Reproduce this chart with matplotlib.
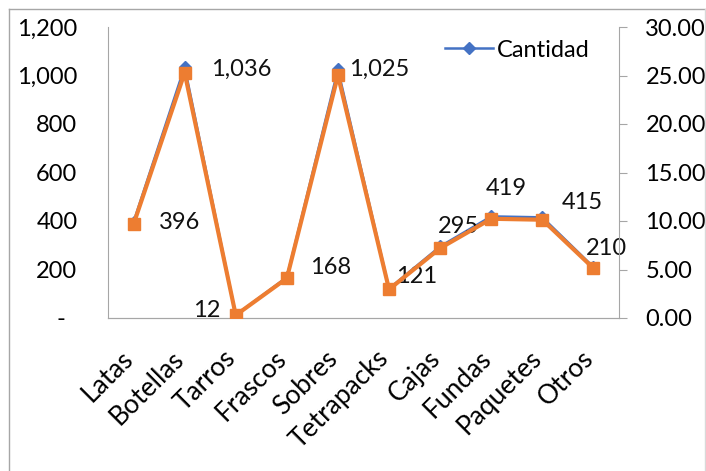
import matplotlib
matplotlib.use("Agg")
import matplotlib.pyplot as plt
from matplotlib.lines import Line2D
from matplotlib.transforms import ScaledTranslation

categorias = ["Latas", "Botellas", "Tarros", "Frascos", "Sobres",
              "Tetrapacks", "Cajas", "Fundas", "Paquetes", "Otros"]
cantidad = [396, 1036, 12, 168, 1025, 121, 295, 419, 415, 210]
porcentaje = [9.67, 25.29, 0.29, 4.10, 25.02, 2.95, 7.20, 10.23, 10.13, 5.13]
etiquetas = ["396", "1,036", "12", "168", "1,025", "121", "295", "419", "415", "210"]

# label offsets in pixels (dx, dy)
offsets = [(46, -1), (57, -3), (-29, 5), (44, 10), (41, 0),
           (28, 12), (18, 20), (15, 28), (40, 15), (13, 19)]

plt.rcParams["font.family"] = ["Lato", "DejaVu Sans"]
azul = "#4472C4"
naranja = "#ED7D31"
gris = "#A6A6A6"

fig = plt.figure(figsize=(7.06, 4.71), dpi=100)
ax = fig.add_axes([108 / 706, 1 - 318 / 471, 511 / 706, 291 / 471])
ax2 = ax.twinx()

x = list(range(len(categorias)))
ax.plot(x, cantidad, color=azul, lw=1.8, marker="D", ms=6, zorder=3)
ax2.plot(x, porcentaje, color=naranja, lw=3, marker="s", ms=8.5, zorder=4)

for i, (v, t) in enumerate(zip(cantidad, etiquetas)):
    ax.annotate(t, (i, v), xytext=offsets[i], textcoords="offset pixels",
                ha="center", va="center", fontsize=17, color="#111111")

ax.set_xlim(-0.5, len(categorias) - 0.5)
ax.set_ylim(0, 1200)
ax2.set_ylim(0, 30)
ax.set_yticks(range(0, 1201, 200))
ax.set_yticklabels(["-  "] + [f"{v:,}" for v in range(200, 1201, 200)])
ax2.set_yticks(range(0, 31, 5))
ax2.set_yticklabels([f"{v:.2f}" for v in range(0, 31, 5)])
ax.set_xticks(x)
ax.set_xticklabels(categorias, rotation=45, ha="right", rotation_mode="anchor")

ax.tick_params(axis="y", length=0, labelsize=17, pad=22)
ax.tick_params(axis="x", length=0, labelsize=19, pad=20)
ax2.tick_params(axis="y", length=6, color=gris, labelsize=17, pad=13)

# nudge category labels to the left (after tick_params, which resets transforms)
shift = ScaledTranslation(-0.13, 0, fig.dpi_scale_trans)
for lab in ax.get_xticklabels():
    lab.set_transform(lab.get_transform() + shift)

for a in (ax, ax2):
    a.spines["top"].set_visible(False)
    for s in ("left", "right", "bottom"):
        a.spines[s].set_color(gris)
ax2.spines["left"].set_visible(False)
ax.spines["right"].set_visible(False)

ax.legend([Line2D([], [], color=azul, lw=1.8, marker="D", ms=6)], ["Cantidad"],
          loc="upper right", bbox_to_anchor=(0.985, 1.03), frameon=False,
          fontsize=17, handlelength=2.0, handletextpad=0.2)

# outer frame
fig.add_artist(Line2D([9 / 706, 9 / 706], [0, 1 - 9 / 471], color=gris, lw=1))
fig.add_artist(Line2D([9 / 706, 705 / 706], [1 - 9 / 471, 1 - 9 / 471], color=gris, lw=1))
fig.add_artist(Line2D([705 / 706, 705 / 706], [0, 1 - 9 / 471], color="#D9D9D9", lw=1))

fig.savefig("out.png", dpi=100)
